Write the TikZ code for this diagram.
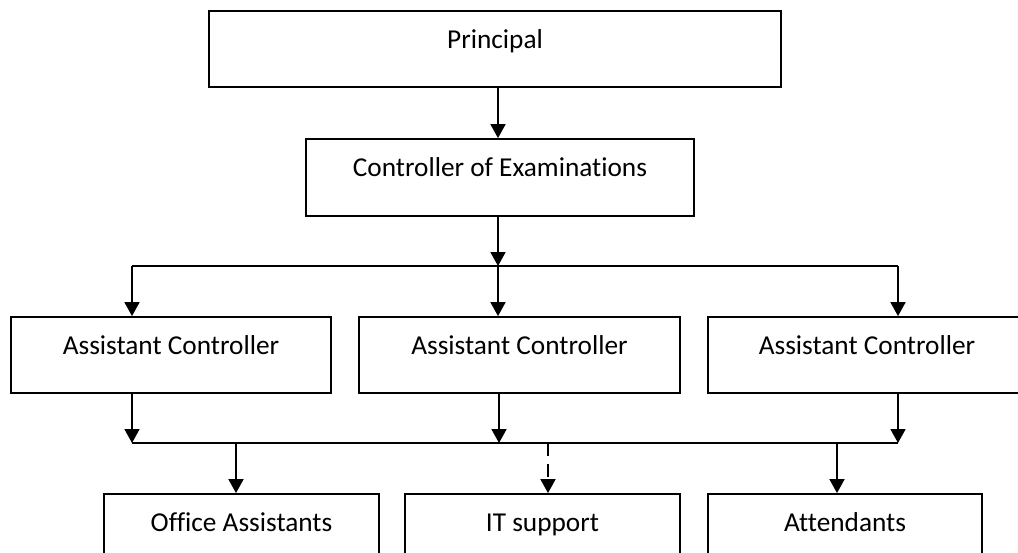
\documentclass[tikz,border=0pt]{standalone}
\usepackage{fontspec}
\setmainfont[Ligatures=NoCommon]{Carlito}
\usetikzlibrary{arrows.meta}
\begin{document}
\begin{tikzpicture}[x=1pt,y=-1pt,
  box/.style={draw=black, line width=1.8pt, rectangle, inner sep=0pt,
    text height=37pt, text depth=39pt,
    font=\fontsize{27.3}{33}\selectfont},
  conn/.style={draw=black, line width=1.8pt},
  arr/.style={conn, -{Triangle[width=15pt,length=14pt]}},
  dasharr/.style={arr, dash pattern=on 13pt off 8pt}]
\useasboundingbox (0,0) rectangle (1018,552);
\fill[white] (0,0) rectangle (1018,552);
% boxes
\node[box, minimum width=572pt] (P) at (495,49) {Principal};
\node[box, minimum width=388pt, text depth=40pt] (C) at (500,177.5) {Controller of Examinations};
\node[box, minimum width=320pt] (A1) at (171,355) {Assistant Controller};
\node[box, minimum width=321pt] (A2) at (519.5,355) {Assistant Controller};
\node[box, minimum width=318pt] (A3) at (867,355) {Assistant Controller};
\node[box, minimum width=275pt] (O) at (241.5,532) {Office Assistants};
\node[box, minimum width=275pt] (IT) at (542.5,532) {IT support};
\node[box, minimum width=274pt] (At) at (845,532) {Attendants};
% junction points
\coordinate (b1) at (498,266);
\coordinate (b1l) at (132,266);
\coordinate (b1r) at (898,266);
\coordinate (b2l) at (132,443);
\coordinate (b2m) at (499,443);
\coordinate (b2r) at (898,443);
\coordinate (d1) at (236,443);
\coordinate (d2) at (548,443);
\coordinate (d3) at (837,443);
% connectors
\draw[arr] (P.south -| b1) -- (C.north -| b1);
\draw[arr] (C.south -| b1) -- (b1);
\draw[conn] (b1l) -- (b1r);
\draw[arr] (b1l) -- (A1.north -| b1l);
\draw[arr] (b1) -- (A2.north -| b1);
\draw[arr] (b1r) -- (A3.north -| b1r);
\draw[arr] (A1.south -| b2l) -- (b2l);
\draw[arr] (A2.south -| b2m) -- (b2m);
\draw[arr] (A3.south -| b2r) -- (b2r);
\draw[conn] (b2l) -- (b2r);
\draw[arr] (d1) -- (O.north -| d1);
\draw[dasharr] (d2) -- (IT.north -| d2);
\draw[arr] (d3) -- (At.north -| d3);
\end{tikzpicture}
\end{document}
